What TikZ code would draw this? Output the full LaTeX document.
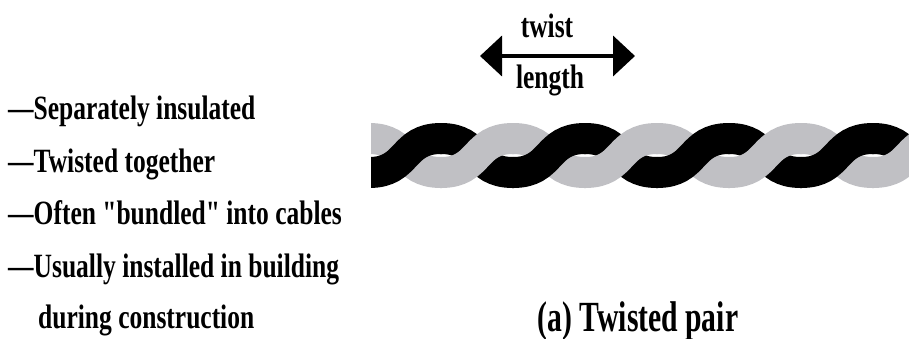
\documentclass[tikz,border=0pt]{standalone}
\usepackage{fontspec}
\setmainfont{Liberation Serif}[FakeStretch=0.75, Ligatures=TeXOff]
\newfontfamily\capfont{Liberation Serif}[FakeStretch=0.69]
\usetikzlibrary{arrows.meta}
\definecolor{wiregray}{RGB}{192,192,196}
\tikzset{
  bullet/.style={anchor=base west, inner sep=0pt, font=\bfseries\fontsize{34}{40}\selectfont},
  label/.style={anchor=base, inner sep=0pt, font=\bfseries\fontsize{34}{40}\selectfont},
  caption/.style={anchor=base, inner sep=0pt, font=\capfont\bfseries\fontsize{43}{50}\selectfont},
  wire/.style={line width=31pt, line cap=butt},
}
% one half twist: from the upper to the lower track or back,
% with a short straight overlap at both ends so that pieces join without seams
\newcommand\twistdown[2]{%
  \draw[wire,#1] (#2-1,138.5) -- (#2,138.5) .. controls (#2+40,138.5) and (#2+32,172.5) .. (#2+72,172.5) -- (#2+73,172.5);}
\newcommand\twistup[2]{%
  \draw[wire,#1] (#2-1,172.5) -- (#2,172.5) .. controls (#2+40,172.5) and (#2+32,138.5) .. (#2+72,138.5) -- (#2+73,138.5);}
\begin{document}
\begin{tikzpicture}[x=1pt,y=-1pt]
\useasboundingbox (0,0) rectangle (909,338);

% property list
\node[bullet] (l1) at (8,119) {—Separately insulated};
\node[bullet] (l2) at (8,172) {—Twisted together};
\node[bullet] (l3) at (8,224) {—Often "bundled" into cables};
\node[bullet] (l4) at (8,277) {—Usually installed in building};
\node[bullet] (l5) at (38,328) {during construction};

% twist length marker
\coordinate (tl) at (480,56);
\coordinate (tr) at (635,56);
\draw[line width=4pt, {Triangle[length=22pt,width=40pt]}-{Triangle[length=22pt,width=40pt]}] (tl) -- (tr);
\node[label] (tw) at (547,37) {twist};
\node[label] (ln) at (550,88) {length};

% the twisted pair: strands going down lie behind, strands going up in front
\begin{scope}
  \clip (371,100) rectangle (909,210);
  \foreach \s in {297,441,585,729,873} {\twistdown{black}{\s}}
  \foreach \s in {369,513,657,801} {\twistdown{wiregray}{\s}}
  \foreach \s in {297,441,585,729,873} {\twistup{wiregray}{\s}}
  \foreach \s in {369,513,657,801} {\twistup{black}{\s}}
\end{scope}

\node[caption] (cap) at (638,331) {(a) Twisted pair};
\end{tikzpicture}
\end{document}
